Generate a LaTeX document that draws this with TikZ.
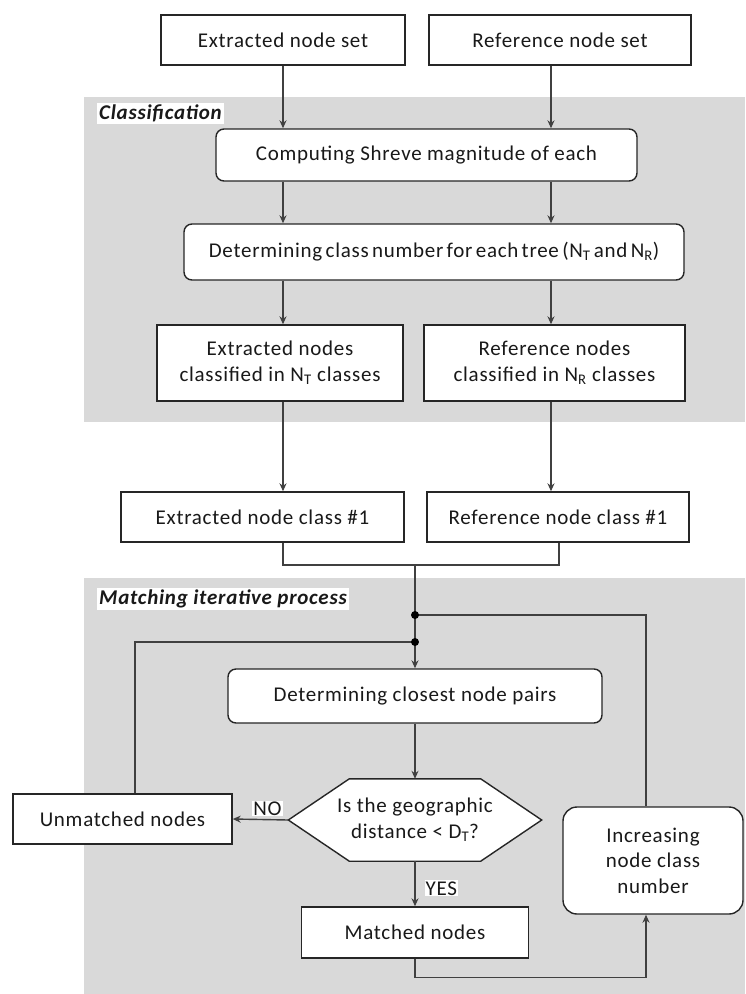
\documentclass[tikz,border=0pt]{standalone}
\usepackage{fontspec}
\setmainfont{Carlito}[LetterSpace=3.5]
\usetikzlibrary{arrows.meta}
\definecolor{bandgray}{RGB}{217,217,217}
\definecolor{linegray}{RGB}{64,64,64}

\begin{document}
\begin{tikzpicture}[x=1pt, y=-1pt,
	every node/.style={font=\fontsize{21}{25.5}\selectfont, text=black!90},
	>={Stealth[length=8pt, width=7pt]},
	plainbox/.style={draw=black!85, line width=1.4pt, fill=white, inner sep=0pt, align=center},
	roundbox/.style={plainbox, rounded corners=8pt},
	decision/.style={draw=black!85, line width=1.4pt, fill=white},
	bandlabel/.style={fill=white, inner sep=2pt, anchor=north west, font=\fontsize{21}{25.5}\selectfont\bfseries\itshape},
	branchlabel/.style={fill=white, inner sep=1pt},
	flow/.style={draw=linegray, line width=1.4pt}]

	\useasboundingbox (0,0) rectangle (745,994);
	% shaded stages
	\fill[bandgray] (84,97) rectangle (745,422);
	\fill[bandgray] (84,578) rectangle (745,994);
	\node[bandlabel] (lblclass) at (97,103) {Classification};
	\node[bandlabel] (lblmatch) at (97,588) {Matching iterative process};

	% columns and joints
	\coordinate (colL) at (283,0);
	\coordinate (colR) at (551,0);
	\coordinate (colM) at (559,0);
	\coordinate (colU) at (135,0);
	\coordinate (colX) at (646,0);
	\coordinate (merge) at (415,565);
	\coordinate (j1) at (415,615);
	\coordinate (j2) at (415,642);

	\node[plainbox, minimum width=244pt, minimum height=50pt] (eset) at (283,40) {Extracted node set};
	\node[plainbox, minimum width=262pt, minimum height=50pt] (rset) at (560,40) {Reference node set};
	\node[roundbox, minimum width=421pt, minimum height=52pt] (comp) at (426.5,155) {Computing Shreve magnitude of each};
	\node[roundbox, minimum width=500pt, minimum height=56pt] (dclass) at (434,252) {\spaceskip=3.3pt Determining class number for each tree (N\textsubscript{T} and N\textsubscript{R})};
	\node[plainbox, minimum width=246pt, minimum height=76pt] (enodes) at (280,363) {Extracted nodes\\classified in N\textsubscript{T} classes};
	\node[plainbox, minimum width=261pt, minimum height=76pt] (rnodes) at (554.5,363) {Reference nodes\\classified in N\textsubscript{R} classes};
	\node[plainbox, minimum width=283pt, minimum height=50pt] (eclass) at (262.5,517) {Extracted node class \#1};
	\node[plainbox, minimum width=262pt, minimum height=50pt] (rclass) at (558,517) {Reference node class \#1};
	\node[roundbox, minimum width=374pt, minimum height=54pt] (closest) at (415,696) {Determining closest node pairs};
	% hexagon test
	\node[minimum width=253pt, minimum height=82pt, inner sep=0pt] (test) at (415,820) {};
	\filldraw[decision] (test.west) -- ([xshift=61pt]test.north west) -- ([xshift=-61pt]test.north east) -- (test.east)
		-- ([xshift=-61pt]test.south east) -- ([xshift=61pt]test.south west) -- cycle;
	\node[align=center] (testtext) at (test) {Is the geographic\\distance < D\textsubscript{T}?};
	\node[plainbox, minimum width=219pt, minimum height=50pt] (unmatched) at (122.5,819) {Unmatched nodes};
	\node[plainbox, minimum width=227pt, minimum height=51pt] (matched) at (415,932.5) {Matched nodes};
	\node[roundbox, rounded corners=14pt, minimum width=180pt, minimum height=107pt] (incr) at (653,860.5) {Increasing\\node class\\number};

	\foreach \c/\a/\b in {colL/eset/comp, colR/rset/comp, colL/comp/dclass, colR/comp/dclass, colL/dclass/enodes, colR/dclass/rnodes, colL/enodes/eclass, colR/rnodes/rclass}
		\draw[flow, ->] (\a.south -| \c) -- (\b.north -| \c);

	\draw[flow] (eclass.south -| colL) |- (merge) -| (rclass.south -| colM);
	\draw[flow, ->] (merge) -- (closest.north);
	\draw[flow] (incr.north -| colX) |- (j1);
	\draw[flow] (unmatched.north -| colU) |- (j2);
	\fill[black] (j1) circle (4pt) (j2) circle (4pt);
	\draw[flow, ->] (closest.south) -- (test.north);
	\draw[flow, ->] (test.west) -- (unmatched.east) node[branchlabel, pos=0, anchor=south east, xshift=-5pt, yshift=3pt] (nolbl) {NO};
	\draw[flow, ->] (test.south) -- (matched.north) node[branchlabel, pos=0.6, anchor=west, xshift=9pt] (yeslbl) {YES};
	\draw[flow, ->] (matched.south) -- ++(0,19) -| (incr.south -| colX);
\end{tikzpicture}
\end{document}
